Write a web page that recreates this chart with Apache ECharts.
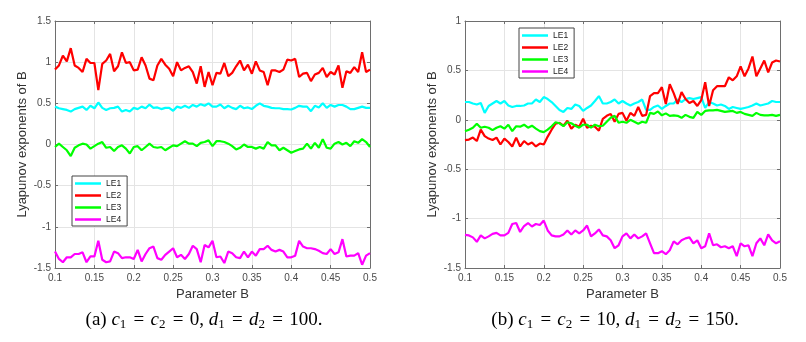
<!DOCTYPE html>
<html>
<head>
<meta charset="utf-8">
<script src="https://cdn.jsdelivr.net/npm/echarts@6/dist/echarts.min.js"></script>
<style>
  html, body { margin: 0; padding: 0; background: #fff; }
  #chart { width: 806px; height: 342px; }
</style>
</head>
<body>
<div id="chart"></div>
<script>
// parameter B, step 0.005
var paramB = [0.1, 0.105, 0.11, 0.115, 0.12, 0.125, 0.13, 0.135, 0.14, 0.145, 0.15, 0.155, 0.16, 0.165, 0.17, 0.175, 0.18, 0.185, 0.19, 0.195,
  0.2, 0.205, 0.21, 0.215, 0.22, 0.225, 0.23, 0.235, 0.24, 0.245, 0.25, 0.255, 0.26, 0.265, 0.27, 0.275, 0.28, 0.285, 0.29, 0.295,
  0.3, 0.305, 0.31, 0.315, 0.32, 0.325, 0.33, 0.335, 0.34, 0.345, 0.35, 0.355, 0.36, 0.365, 0.37, 0.375, 0.38, 0.385, 0.39, 0.395,
  0.4, 0.405, 0.41, 0.415, 0.42, 0.425, 0.43, 0.435, 0.44, 0.445, 0.45, 0.455, 0.46, 0.465, 0.47, 0.475, 0.48, 0.485, 0.49, 0.495, 0.5];

var seriesNames = ["LE1", "LE2", "LE3", "LE4"];
var colors = ["#00FFFF", "#FF0000", "#00FF00", "#FF00FF"];

// (a) c1 = c2 = 0, d1 = d2 = 100
var a_le1 = [0.46, 0.44, 0.43, 0.42, 0.40, 0.43, 0.445, 0.46, 0.42, 0.47, 0.44, 0.51, 0.445, 0.42, 0.44, 0.445, 0.46, 0.40, 0.42, 0.40,
  0.445, 0.43, 0.46, 0.44, 0.485, 0.445, 0.45, 0.43, 0.445, 0.445, 0.41, 0.46, 0.445, 0.47, 0.445, 0.48, 0.46, 0.49, 0.47, 0.50,
  0.46, 0.46, 0.485, 0.44, 0.47, 0.445, 0.43, 0.47, 0.44, 0.45, 0.43, 0.47, 0.50, 0.47, 0.46, 0.445, 0.44, 0.44, 0.43, 0.43,
  0.425, 0.445, 0.47, 0.46, 0.46, 0.405, 0.47, 0.45, 0.50, 0.445, 0.48, 0.46, 0.48, 0.48, 0.46, 0.43, 0.43, 0.445, 0.46, 0.445, 0.445];
var a_le2 = [0.91, 0.96, 1.08, 1.01, 1.17, 0.96, 0.93, 0.88, 1.04, 0.99, 0.99, 0.66, 0.98, 1.02, 1.10, 0.89, 0.95, 1.12, 0.99, 1.0,
  0.90, 0.91, 1.06, 0.96, 0.80, 0.78, 0.96, 1.04, 0.97, 0.92, 0.83, 1.0, 0.90, 0.93, 0.95, 0.88, 0.74, 0.95, 0.70, 0.88,
  0.72, 0.87, 0.86, 0.99, 0.83, 0.87, 0.95, 1.02, 0.90, 0.97, 0.86, 1.01, 0.90, 0.88, 0.72, 0.90, 0.90, 0.88, 0.91, 1.03,
  1.02, 1.04, 0.82, 0.86, 0.87, 0.77, 0.85, 0.87, 0.93, 0.82, 0.88, 0.85, 0.96, 0.69, 0.89, 0.87, 0.94, 0.88, 1.12, 0.88, 0.91];
var a_le3 = [-0.03, 0.01, -0.03, -0.07, -0.14, -0.04, -0.01, 0.01, 0, -0.05, -0.02, 0.01, 0.03, -0.04, -0.03, -0.08, -0.03, -0.01, -0.05, -0.11,
  -0.03, -0.02, -0.07, -0.03, 0.01, -0.03, -0.04, -0.03, -0.07, -0.04, -0.01, -0.02, 0.01, 0.04, 0.01, 0.01, -0.02, 0.02, 0.03, 0.05,
  -0.02, 0.04, 0.04, 0.03, 0.01, -0.02, -0.06, -0.04, 0, -0.03, -0.03, -0.05, -0.03, -0.05, 0.03, -0.01, -0.01, -0.07, -0.04, -0.07,
  -0.1, -0.08, -0.06, -0.05, 0.01, -0.05, 0.02, -0.04, 0.065, -0.04, -0.05, 0.01, 0.03, 0, 0.02, -0.02, 0.04, 0.02, 0.065, 0.03, -0.03];
var a_le4 = [-1.30, -1.39, -1.43, -1.37, -1.37, -1.33, -1.33, -1.31, -1.43, -1.36, -1.36, -1.17, -1.40, -1.43, -1.42, -1.30, -1.32, -1.38, -1.37, -1.37,
  -1.39, -1.28, -1.42, -1.33, -1.26, -1.24, -1.38, -1.40, -1.34, -1.30, -1.26, -1.37, -1.34, -1.39, -1.33, -1.23, -1.27, -1.43, -1.22, -1.25,
  -1.17, -1.37, -1.36, -1.44, -1.30, -1.32, -1.37, -1.38, -1.30, -1.37, -1.30, -1.35, -1.27, -1.27, -1.23, -1.28, -1.30, -1.28, -1.30, -1.37,
  -1.37, -1.35, -1.17, -1.24, -1.26, -1.26, -1.27, -1.29, -1.32, -1.33, -1.27, -1.33, -1.31, -1.15, -1.36, -1.35, -1.35, -1.32, -1.46, -1.35, -1.32];

// (b) c1 = c2 = 10, d1 = d2 = 150
var b_le1 = [0.18, 0.18, 0.165, 0.155, 0.17, 0.07, 0.14, 0.165, 0.19, 0.165, 0.19, 0.145, 0.13, 0.14, 0.14, 0.145, 0.165, 0.165, 0.205, 0.18,
  0.23, 0.21, 0.18, 0.14, 0.10, 0.08, 0.12, 0.11, 0.155, 0.14, 0.09, 0.12, 0.145, 0.19, 0.24, 0.165, 0.165, 0.18, 0.205, 0.165,
  0.19, 0.165, 0.145, 0.165, 0.18, 0.205, 0.10, 0.10, 0.13, 0.145, 0.11, 0.14, 0.165, 0.165, 0.205, 0.18, 0.21, 0.22, 0.21, 0.22,
  0.23, 0.12, 0.18, 0.165, 0.145, 0.155, 0.14, 0.11, 0.13, 0.12, 0.11, 0.12, 0.13, 0.145, 0.165, 0.145, 0.155, 0.165, 0.19, 0.18, 0.18];
var b_le2 = [-0.205, -0.20, -0.18, -0.215, -0.10, -0.165, -0.19, -0.205, -0.18, -0.25, -0.19, -0.225, -0.27, -0.18, -0.27, -0.215, -0.25, -0.23, -0.27, -0.24,
  -0.25, -0.17, -0.10, -0.04, -0.03, -0.06, -0.01, -0.09, -0.05, -0.07, 0.01, -0.08, -0.06, -0.07, -0.11, 0.01, 0.04, 0.06, -0.02, 0.06,
  0.07, -0.01, 0.07, 0.04, 0.13, 0.04, 0.05, 0.24, 0.27, 0.27, 0.33, 0.16, 0.36, 0.27, 0.16, 0.28, 0.21, 0.17, 0.19, 0.14,
  0.20, 0.38, 0.14, 0.30, 0.34, 0.34, 0.34, 0.43, 0.40, 0.44, 0.54, 0.44, 0.52, 0.64, 0.44, 0.52, 0.60, 0.48, 0.58, 0.60, 0.59];
var b_le3 = [-0.115, -0.10, -0.08, -0.04, -0.08, -0.07, -0.08, -0.105, -0.08, -0.065, -0.09, -0.05, -0.115, -0.065, -0.07, -0.05, -0.08, -0.06, -0.09, -0.115,
  -0.125, -0.10, -0.065, -0.025, -0.035, -0.065, -0.025, -0.035, -0.06, -0.08, -0.05, -0.05, -0.08, -0.05, -0.065, -0.06, -0.02, 0.02, 0.04, -0.03,
  -0.02, -0.03, 0, -0.02, -0.04, -0.02, -0.03, 0.07, 0.06, 0.085, 0.045, 0.065, 0.04, 0.045, 0.04, 0.02, 0.05, 0.03, 0.02, 0.08,
  0.05, 0.09, 0.095, 0.095, 0.10, 0.09, 0.08, 0.085, 0.09, 0.07, 0.08, 0.06, 0.05, 0.04, 0.07, 0.05, 0.045, 0.045, 0.05, 0.04, 0.05];
var b_le4 = [-1.165, -1.17, -1.19, -1.235, -1.17, -1.20, -1.18, -1.155, -1.145, -1.17, -1.17, -1.145, -1.055, -1.045, -1.135, -1.075, -1.045, -1.08, -1.055, -1.065,
  -1.02, -1.12, -1.17, -1.18, -1.18, -1.16, -1.12, -1.16, -1.12, -1.15, -1.12, -1.07, -1.18, -1.15, -1.11, -1.17, -1.18, -1.22, -1.30, -1.27,
  -1.18, -1.15, -1.2, -1.16, -1.2, -1.18, -1.15, -1.25, -1.35, -1.35, -1.33, -1.36, -1.32, -1.23, -1.26, -1.22, -1.2, -1.19, -1.25, -1.22,
  -1.3, -1.28, -1.15, -1.27, -1.26, -1.29, -1.28, -1.3, -1.28, -1.38, -1.25, -1.28, -1.27, -1.38, -1.25, -1.2, -1.27, -1.16, -1.22, -1.25, -1.23];

var panelA = [a_le1, a_le2, a_le3, a_le4];
var panelB = [b_le1, b_le2, b_le3, b_le4];

var chart = echarts.init(document.getElementById("chart"), null, { renderer: "canvas" });

var axisColor = "#6e6e6e";
var sans = "Liberation Sans, Arial, sans-serif";
var serif = "Liberation Serif, Times New Roman, serif";
var labelFont = { color: "#4a4a4a", fontSize: 10, fontFamily: sans };

function pairs(ys) {
  return paramB.map(function (b, i) { return [b, ys[i]]; });
}

function xAxes(grid) {
  return [
    {
      type: "value", gridIndex: grid, min: 0.1, max: 0.5, interval: 0.05,
      name: "Parameter B", nameLocation: "middle", nameGap: 19,
      nameTextStyle: { color: "#333", fontSize: 13, fontFamily: sans },
      axisLine: { show: true, onZero: false, lineStyle: { color: axisColor, width: 1 } },
      axisTick: { show: true, inside: true, length: 3, lineStyle: { color: axisColor } },
      axisLabel: Object.assign({ margin: 5 }, labelFont),
      splitLine: { show: true, lineStyle: { color: "#e4e4e4", width: 1 } }
    },
    {
      type: "value", gridIndex: grid, position: "top", min: 0.1, max: 0.5, interval: 0.05,
      axisLine: { show: true, onZero: false, lineStyle: { color: axisColor, width: 1 } },
      axisTick: { show: true, inside: true, length: 3, lineStyle: { color: axisColor } },
      axisLabel: { show: false },
      splitLine: { show: false }
    }
  ];
}

function yAxes(grid, min, max) {
  return [
    {
      type: "value", gridIndex: grid, min: min, max: max, interval: 0.5,
      name: "Lyapunov exponents of B", nameLocation: "middle", nameGap: 26,
      nameTextStyle: { color: "#333", fontSize: 13, fontFamily: sans },
      axisLine: { show: true, onZero: false, lineStyle: { color: axisColor, width: 1 } },
      axisTick: { show: true, inside: true, length: 3, lineStyle: { color: axisColor } },
      axisLabel: Object.assign({ margin: 4 }, labelFont),
      splitLine: { show: true, lineStyle: { color: "#e4e4e4", width: 1 } }
    },
    {
      type: "value", gridIndex: grid, position: "right", min: min, max: max, interval: 0.5,
      axisLine: { show: true, onZero: false, lineStyle: { color: axisColor, width: 1 } },
      axisTick: { show: true, inside: true, length: 3, lineStyle: { color: axisColor } },
      axisLabel: { show: false },
      splitLine: { show: false }
    }
  ];
}

var series = [];
seriesNames.forEach(function (name, k) {
  series.push({
    name: name, type: "line", xAxisIndex: 0, yAxisIndex: 0,
    data: pairs(panelA[k]), symbol: "none", showSymbol: false, color: colors[k],
    lineStyle: { width: 2.2, color: colors[k] }
  });
});
seriesNames.forEach(function (name, k) {
  series.push({
    name: name, type: "line", xAxisIndex: 2, yAxisIndex: 2,
    data: pairs(panelB[k]), symbol: "none", showSymbol: false, color: colors[k],
    lineStyle: { width: 2.2, color: colors[k] }
  });
});

function legendAt(left, top) {
  return {
    data: seriesNames.map(function (n) { return { name: n, icon: "rect" }; }),
    orient: "vertical", left: left, top: top,
    itemWidth: 26, itemHeight: 2.5, itemGap: 3, padding: [3, 6, 2, 3],
    backgroundColor: "#fff", borderColor: "#444", borderWidth: 1, borderRadius: 0,
    selectedMode: false,
    textStyle: { fontSize: 8.5, color: "#222", fontFamily: sans }
  };
}

var capRich = {
  i: { fontStyle: "italic", fontSize: 19, fontFamily: serif, color: "#000" },
  s: { fontSize: 13, padding: [9, 1, 0, 0], fontFamily: serif, color: "#000" },
  e: { fontSize: 19, padding: [0, 1.5, 0, 1.5], fontFamily: serif, color: "#000" }
};

function caption(x, text) {
  return {
    type: "text", x: x, y: 320,
    style: {
      text: text, rich: capRich, align: "center", verticalAlign: "middle",
      fontSize: 19, fontFamily: serif, fill: "#000"
    }
  };
}

var option = {
  animation: false,
  backgroundColor: "#fff",
  grid: [
    { left: 55, right: 436, top: 21, bottom: 74 },
    { left: 465, right: 26, top: 21, bottom: 74 }
  ],
  xAxis: xAxes(0).concat(xAxes(1)),
  yAxis: yAxes(0, -1.5, 1.5).concat(yAxes(1, -1.5, 1)),
  legend: [legendAt(72, 176), legendAt(519, 28)],
  series: series,
  graphic: [
    caption(204, "(a) {i|c}{s|1} {e|=} {i|c}{s|2} {e|=} 0, {i|d}{s|1} {e|=} {i|d}{s|2} {e|=} 100."),
    caption(615, "(b) {i|c}{s|1} {e|=} {i|c}{s|2} {e|=} 10, {i|d}{s|1} {e|=} {i|d}{s|2} {e|=} 150.")
  ]
};

chart.setOption(option);
</script>
</body>
</html>
